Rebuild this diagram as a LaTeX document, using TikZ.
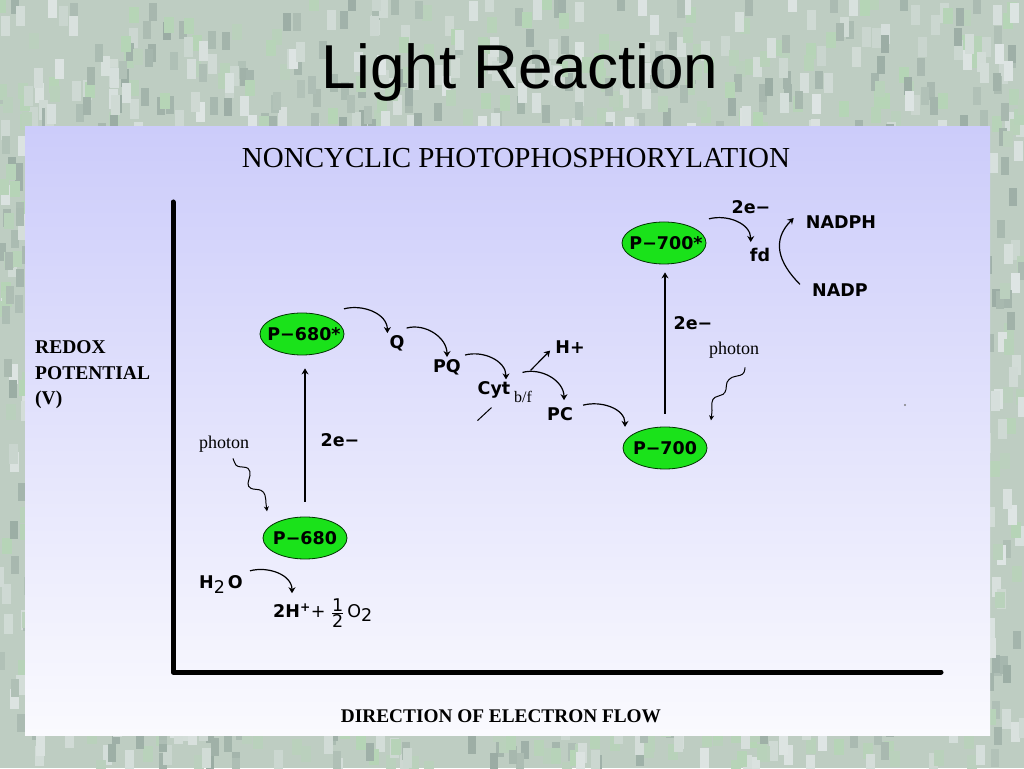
\documentclass[tikz,border=0pt]{standalone}
\usepackage{fontspec}
\setmainfont{Liberation Serif}
\newfontfamily\slidefont{Liberation Sans}
\newfontfamily\diagfont{DejaVu Sans}
\usetikzlibrary{calc,shapes.geometric,arrows.meta}
\definecolor{slidebg}{RGB}{190,205,194}
\definecolor{texlight}{RGB}{226,232,232}
\definecolor{texdark}{RGB}{150,168,160}
\definecolor{texgreen}{RGB}{180,214,180}
\definecolor{paneltop}{RGB}{204,204,250}
\definecolor{panelbot}{RGB}{250,250,254}
\definecolor{psgreen}{RGB}{26,226,26}

\begin{document}
\begin{tikzpicture}[x=1pt,y=1pt,
                        >={Stealth[length=6pt,width=7pt]},
                        psys/.style={ellipse,draw=black!80!green,line width=0.8pt,fill=psgreen,
                        minimum width=84pt,minimum height=42pt,inner sep=0pt,
                        font=\diagfont\bfseries\fontsize{17.5}{19}\selectfont},
                        lbl/.style={inner sep=2pt,font=\diagfont\bfseries\fontsize{17.5}{19}\selectfont},
                        note/.style={inner sep=2pt,font=\fontsize{18}{20}\selectfont},
                        hop/.style={->,line width=1.2pt},
                        wave/.style={-{Stealth[length=5pt,width=5pt]},line width=1pt}
                        ]
                        \useasboundingbox (0,0) rectangle (1024,768);
                        \fill[slidebg] (0,0) rectangle (1024,768);
                        % texture
                        \pgfmathsetseed{11}
                        \foreach \i in {1,...,2400}{
                          \pgfmathsetmacro{\tx}{rnd*1024-5}
                          \pgfmathsetmacro{\ty}{rnd*768-10}
                          \pgfmathsetmacro{\tk}{30+rnd*60}
                          \pgfmathtruncatemacro{\tc}{mod(\i,3)}
                          \ifcase\tc
                            \fill[texlight!\tk!slidebg] (\tx,\ty) rectangle ++(9,20);
                          \or
                            \fill[texdark!\tk!slidebg] (\tx,\ty) rectangle ++(8,18);
                          \else
                            \fill[texgreen!\tk!slidebg] (\tx,\ty) rectangle ++(10,16);
                          \fi
                        }
                        % draw panel
                        \shade[top color=paneltop,bottom color=panelbot] (25,33) rectangle (990,641);
                        \node[font=\slidefont\fontsize{62}{70}\selectfont,anchor=base] (title) at (520,679) {Light Reaction};
                        \node[font=\fontsize{29}{32}\selectfont] (head) at (516,610) {NONCYCLIC PHOTOPHOSPHORYLATION};

                        % axes
                        \draw[line width=5pt,line cap=round,line join=round] (173,566) -- (173,96) -- (941,96);
                        \node[font=\bfseries\fontsize{19.5}{25.5}\selectfont,align=left,anchor=west,inner sep=0pt] (yaxis) at (35,393) {REDOX\\POTENTIAL\\(V)};
                        \node[font=\bfseries\fontsize{19.3}{22}\selectfont] (xaxis) at (501,52) {DIRECTION OF ELECTRON FLOW};

                        % photosystems
                        \node[psys] (p680) at (305,230) {\makebox[0pt]{P−680}};
                        \node[psys] (p680s) at (302,434) {\makebox[0pt]{\hspace*{4pt}P−680*}};
                        \node[psys] (p700) at (665,320) {\makebox[0pt]{P−700}};
                        \node[psys] (p700s) at (664,525) {\makebox[0pt]{\hspace*{4pt}P−700*}};

                        % carriers and labels
                        \node[lbl] (q) at (397,425) {Q};
                        \node[lbl] (pq) at (447,401) {PQ};
                        \node[lbl] (cyt) at (494,378) {Cyt};
                        \node[font=\fontsize{16}{17}\selectfont,anchor=west,inner sep=0pt] (bf) at (514,371) {b/f};
                        \node[lbl] (hplus) at (570,421) {H+};
                        \node[lbl] (pc) at (560,354) {PC};
                        \node[lbl] (fd) at (760,513) {fd};
                        \node[lbl] (nadph) at (841,546) {NADPH};
                        \node[lbl] (nadp) at (840,478) {NADP};
                        \node[lbl] (eA) at (340,328) {2e−};
                        \node[lbl] (eB) at (693,445) {2e−};
                        \node[lbl] (eC) at (751,561) {2e−};
                        \node[note] (photonL) at (224,324) {photon};
                        \node[note] (photonR) at (734,418) {photon};
                        \node[lbl,anchor=base] (h2o) at (221,179) {H\raisebox{-5pt}{\mdseries 2}\,O};
                        \node[lbl,anchor=base west] (prod) at (271,150) {2H\textsuperscript{+}{\mdseries+ ${\hbox{1}\over\hbox{2}}$\,O\raisebox{-4pt}{2}}};

                        % electron hops
                        \draw[hop] ([shift={(12,10)}]p680s.north east) to[out=15,in=90] (q.north west);
                        \draw[hop] ([shift={(0,5)}]q.north east) to[out=15,in=90] (pq.north);
                        \draw[hop] ([shift={(2,2)}]pq.north east) to[out=15,in=90] ([xshift=12]cyt.north);
                        \coordinate (fork) at ([shift={(10,7)}]cyt.north east);
                        \draw[hop] ([shift={(8,2)}]fork) -- ([shift={(-3,5)}]hplus.south west);
                        \draw[hop] (fork) to[out=15,in=90] ([shift={(4,5)}]pc.north);
                        \draw[line width=1pt] ([shift={(2,-20)}]cyt.south west) -- ++(14,13);
                        \draw[hop] ([shift={(8,0)}]pc.north east) to[out=15,in=90] ([shift={(-10,6)}]p700.north west);
                        \draw[hop] ([shift={(15,9)}]p700s.north east) to[out=15,in=90] ([shift={(3,4)}]fd.north west);
                        \draw[hop] ([shift={(-10,-3)}]nadp.north west) to[out=135,in=225,looseness=1.2] ([shift={(-10,4)}]nadph.west);
                        \draw[hop] ([shift={(5,3)}]h2o.north east) to[out=15,in=90] ([shift={(21,3)}]prod.north west);

                        % excitation
                        \draw[->,line width=1.4pt,shorten <=15pt,shorten >=13pt] (p680.north) -- (p680.north |- p680s.south);
                        \draw[->,line width=1.4pt,shorten <=13pt,shorten >=8pt] (p700.north) -- (p700.north |- p700s.south);

                        % photons
                        \coordinate (waveL) at ([shift={(9,-4)}]photonL.south);
                        \coordinate (waveR) at ([shift={(11,-7)}]photonR.south);
                        \begin{scope}[shift={(waveL)}]
                        \draw[wave] plot[smooth,tension=0.7] coordinates {(0,0) (2,-5) (5,-8) (15,-10) (17,-17) (15,-25) (18,-30) (28,-32) (32,-37) (33,-45) (34,-53)};
                        \end{scope}
                        \begin{scope}[shift={(waveR)}]
                        \draw[wave] plot[smooth,tension=0.7] coordinates {(0,0) (-1,-5) (-5,-8) (-13,-10) (-18,-15) (-19,-22) (-22,-27) (-30,-30) (-33,-35) (-33,-43) (-34,-53)};
                        \end{scope}
                        \fill[gray] (905,363) circle (1.2);
                \end{tikzpicture}
\end{document}
